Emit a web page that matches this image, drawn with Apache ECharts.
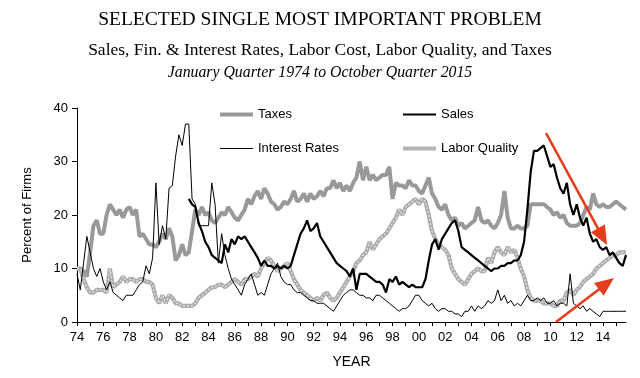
<!DOCTYPE html>
<html><head><meta charset="utf-8">
<script src="https://cdn.jsdelivr.net/npm/echarts@6/dist/echarts.min.js"></script>
<style>html,body{margin:0;padding:0;background:#fff}#c{width:640px;height:378px}</style>
</head><body><div id="c"></div>
<script>
// Years covered (quarterly data, Jan 1974 .. Oct 2015)
const years = [1974,1975,1976,1977,1978,1979,1980,1981,1982,1983,1984,1985,1986,1987,1988,1989,1990,1991,1992,1993,1994,1995,1996,1997,1998,1999,2000,2001,2002,2003,2004,2005,2006,2007,2008,2009,2010,2011,2012,2013,2014,2015];
const quarterNames = ['Q1','Q2','Q3','Q4'];

const taxes = [
 10,10,9.5,8.5, 13,18,19,16.5, 16.5,20,22,21, 20,21,19.5,21, 21.5,20,21,16,
 16.5,15.5,14.5,14.5, 14,15,16.5,15.5, 17.5,16,11.5,12.5, 14.5,12.5,13,17, 21,20,21.5,20,
 20.5,19,18.5,19.5, 20.5,20,21.5,20.5, 19.5,19,20,21, 23,22,23.5,24.5, 23,25,24,22.5,
 22,21,21.5,22.5, 22,23,24.5,22.5, 23,24,22.5,24, 23,23.5,24.5,23.5, 25,25,26.5,25,
 26,24.5,25.5,24.5, 26,27,30,26.5, 29,26.5,27.5,26.5, 27,27.5,27.5,29, 23,26,25.5,25.5,
 25,26.5,25.5,25.5, 24.5,24,25.5,27, 24,23,21.5,21, 22,20,19,19.5, 18,18.5,17.5,18,
 18.5,19,21.5,19, 18.5,19,18,17.5, 18.5,20,24.5,19.5, 17.5,17.5,18,17.5, 17.5,18,22,22,
 22,22,22,21.5, 21,20,20.5,19.5, 20,18.5,18,18, 18,18.5,20,21.5, 21,24,22,21.5,
 22,21.5,21.5,22, 22.5,22,21.5,21
];
const sales = [
 null,null,null,null, null,null,null,null, null,null,null,null, null,null,null,null, null,null,null,null,
 null,null,null,null, null,null,null,null, null,null,null,null, null,null,23,22, 21.5,18.5,17,15,
 14,12.5,12,11.5, 11,14.5,13,15.5, 14.5,16,15.5,16, 15,14,13,12, 10.5,11.5,10.5,10.5,
 10,10.5,10,10.5, 10,10.5,12.5,14.5, 16.5,17.5,19,17, 17.5,18.5,16,15, 14,13,12,11,
 10.5,10,9.5,8.5, 10,6,9,9, 9,8.5,8,7.5, 7.5,7,5.5,8, 7.5,8.5,7,7.5,
 7,6.5,7,6.5, 6.5,6.5,8,11.5, 14.5,15.5,13.5,15.5, 16.5,17.5,18.5,19, 17,14,13.5,13,
 12.5,12,11.5,11, 10.5,10,9.5,10, 10,10.5,10.5,11, 11,11.5,11.5,12.5, 15,21,28,32,
 32,32.5,33,31, 29,29.5,27,25, 24,26,22,20, 22,19.5,18,19.5, 16.5,15,15.5,14,
 13.5,14,12.5,13, 12,11,10.5,12.5
];
const interestRates = [
 9,6,11,16, 13,10,8.5,10, 7.5,6,7.5,5.5, 5,4.5,4,5, 5,5,6,7,
 7.5,10.5,9,12, 26,14.5,18,15.5, 25,25.5,31,35, 33,37,37,23, 22,18,18,18,
 18,26,22,11, 16.5,12.5,10,8, 7,6,5,7, 8,9,7,5, 5.5,5,7,9,
 10,11,8.5,7.5, 7,7,6,5.5, 5.5,5,4.5,4, 4,3.5,3.5,3.5, 3,2.5,2,3,
 4,5,5.5,6, 6,5.5,5,5, 4.5,4.5,4,5, 5,4.5,4,3.5, 3,2.5,2,2.5,
 2.5,3,4,5, 5,4,3.5,3, 3.5,2.5,2,2.5, 2.5,2,2,1.5, 1.5,1,2,2,
 3,2,3,2.5, 3,4,3.5,4, 6,4,5,3.5, 4,3,3.5,3, 4,5,4,4,
 4.5,4,4.5,3.5, 3.5,4,3,3.5, 3.5,3,9,3.5, 3,2.5,3,2, 2.5,2,1.5,1,
 2,2,2,2, 2,2,2,2
];
const laborQuality = [
 10,10,8,6.5, 5.5,5.5,6,6, 6,5.5,10,6.5, 7,7.5,8.5,7.5, 8,8,7.5,8,
 8,7.5,7.5,7, 4.5,3.5,5,3.5, 5,4.5,3.5,3.5, 3,3,3,3, 3.5,4.5,5,5.5,
 6,6.5,6.5,7, 7,6.5,7,7.5, 8,7.5,7,8, 8,8.5,9,8.5, 10,11,12,11.5,
 10.5,9.5,10,10.5, 11,9.5,8,7, 6,5.5,5,4.5, 4,4.5,4,5, 5.5,4.5,4,4.5,
 5.5,6.5,7.5,8.5, 9.5,11,11.5,12.5, 13,15,13.5,14.5, 15.5,16,16.5,17.5, 18.5,19.5,21,20,
 21.5,22,22.5,23, 22,23,22.5,20, 17,15.5,14.5,14, 13.5,12.5,10,9, 8,7.5,7,8,
 9,9.5,10,9.5, 9.5,12,11,13, 14,13,12.5,14, 13,13.5,12,10, 8.5,6,4.5,4,
 4,4,3.5,3.5, 3.5,3,3,4, 4,5.5,6,5, 6,6.5,7.5,8, 8.5,9,10,10.5,
 11,11.5,12,12.5, 12.5,13,13,13
];

const categories = [];
years.forEach(y => quarterNames.forEach(q => categories.push(y + ' ' + q)));

const sans = 'Liberation Sans';
const serif = 'Liberation Serif';
const chart = echarts.init(document.getElementById('c'), null, {renderer: 'canvas'});

const red = '#e63c1e';
function arrow(x1, y1, x2, y2) {
  const dx = x2 - x1, dy = y2 - y1, L = Math.hypot(dx, dy);
  const ux = dx / L, uy = dy / L, hl = 19, hw = 8;
  const bx = x2 - ux * hl, by = y2 - uy * hl;
  return [
    {type: 'line', z: 100, shape: {x1: x1, y1: y1, x2: bx + ux * 2, y2: by + uy * 2}, style: {stroke: red, lineWidth: 2.6}},
    {type: 'polygon', z: 100, shape: {points: [[x2, y2], [bx - uy * hw, by + ux * hw], [bx + uy * hw, by - ux * hw]]}, style: {fill: red}}
  ];
}

function legendItem(name, left, top, color, h) {
  return {data: [{name: name, icon: 'rect', itemStyle: {color: color, borderWidth: 0}}],
    left: left, top: top, padding: 0, itemWidth: 33, itemHeight: h, selectedMode: false,
    textStyle: {fontFamily: sans, fontSize: 13, color: '#000', padding: [0, 0, 0, 0]}};
}

chart.setOption({
  animation: false,
  backgroundColor: '#fff',
  title: [
    {text: 'SELECTED SINGLE MOST IMPORTANT PROBLEM', left: 'center', top: 10, padding: 0,
     textStyle: {fontFamily: serif, fontSize: 19.5, fontWeight: 'normal', color: '#000'}},
    {text: 'Sales, Fin. & Interest Rates, Labor Cost, Labor Quality, and Taxes', left: 'center', top: 41, padding: 0,
     textStyle: {fontFamily: serif, fontSize: 17.5, fontWeight: 'normal', color: '#000'}},
    {text: 'January Quarter 1974 to October Quarter 2015', left: 'center', top: 65, padding: 0,
     textStyle: {fontFamily: serif, fontSize: 15.8, fontStyle: 'italic', fontWeight: 'normal', color: '#000'}}
  ],
  legend: [
    legendItem('Taxes', 220, 108, '#999999', 4),
    legendItem('Sales', 403, 108, '#000000', 2),
    legendItem('Interest Rates', 220, 142, '#000000', 1),
    legendItem('Labor Quality', 403, 142, '#b4b4b4', 4)
  ],
  grid: {left: 77, right: 14, top: 108, bottom: 56},
  xAxis: {
    type: 'category', data: categories, boundaryGap: false,
    axisLine: {lineStyle: {color: '#000', width: 1}},
    axisTick: {interval: 3, length: 4, lineStyle: {color: '#000'}},
    axisLabel: {interval: 7, formatter: v => v.slice(2, 4), fontFamily: sans, fontSize: 13, color: '#000', margin: 9},
    name: 'YEAR', nameLocation: 'middle', nameGap: 33,
    nameTextStyle: {fontFamily: sans, fontSize: 14, color: '#000'}
  },
  yAxis: {
    type: 'value', min: 0, max: 40, interval: 10,
    axisLine: {show: true, lineStyle: {color: '#000', width: 1}},
    axisTick: {show: true, length: 5, lineStyle: {color: '#000'}},
    splitLine: {show: false},
    axisLabel: {fontFamily: sans, fontSize: 13, color: '#000', margin: 9},
    name: 'Percent of Firms', nameLocation: 'middle', nameGap: 43,
    nameTextStyle: {fontFamily: sans, fontSize: 13, color: '#000'}
  },
  series: [
    {name: 'Taxes', type: 'line', data: taxes, symbol: 'none', z: 2,
     lineStyle: {color: '#999999', width: 4}, itemStyle: {color: '#999999'}},
    {name: 'Labor Quality', type: 'line', data: laborQuality, symbol: 'none', z: 3,
     lineStyle: {color: '#ababab', width: 4.2}, itemStyle: {color: '#b4b4b4'}},
    {name: 'LQ dots', type: 'line', data: laborQuality, symbol: 'none', z: 4, silent: true,
     lineStyle: {color: '#e2e2e2', width: 1.4, type: [2, 2]}},
    {name: 'Interest Rates', type: 'line', data: interestRates, symbol: 'none', z: 5,
     lineStyle: {color: '#000', width: 1}, itemStyle: {color: '#000'}},
    {name: 'Sales', type: 'line', data: sales, symbol: 'none', z: 6,
     lineStyle: {color: '#000', width: 2.2}, itemStyle: {color: '#000'}}
  ],
  graphic: [].concat(arrow(546, 133, 607, 245), arrow(556, 322, 614, 278))
});
</script>
</body></html>
